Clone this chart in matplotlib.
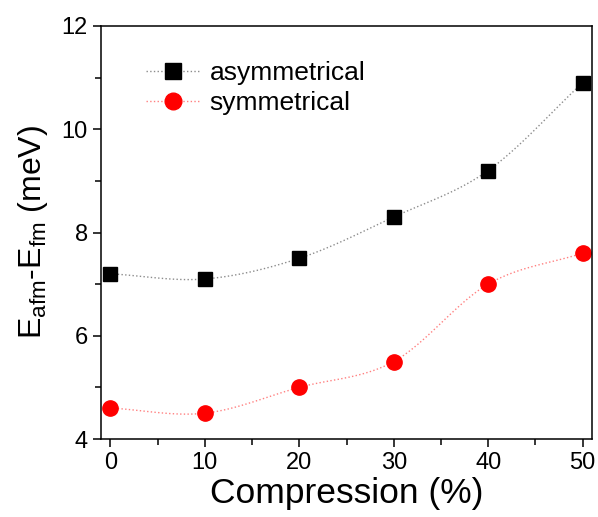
import numpy as np
import matplotlib as mpl
mpl.use("Agg")
import matplotlib.pyplot as plt
from matplotlib.ticker import MultipleLocator

mpl.rcParams.update({
	"font.family": ["Liberation Sans", "DejaVu Sans"],
	"mathtext.fontset": "custom",
	"mathtext.rm": "Liberation Sans",
	"mathtext.it": "Liberation Sans",
	"axes.linewidth": 1.1,
})

compression = [0, 10, 20, 30, 40, 50]
asym = [7.2, 7.1, 7.5, 8.3, 9.2, 10.9]
sym = [4.6, 4.5, 5.0, 5.5, 7.0, 7.6]

def smooth(xs, ys, n=20):
	# Catmull-Rom curve through the points (connecting line only)
	xs = np.asarray(xs, float)
	ys = np.asarray(ys, float)
	px = np.concatenate([[2*xs[0]-xs[1]], xs, [2*xs[-1]-xs[-2]]])
	py = np.concatenate([[2*ys[0]-ys[1]], ys, [2*ys[-1]-ys[-2]]])
	t = np.linspace(0, 1, n)
	ox, oy = [], []
	for i in range(1, len(px)-2):
		for p, o in ((px, ox), (py, oy)):
			p0, p1, p2, p3 = p[i-1], p[i], p[i+1], p[i+2]
			o.extend(0.5*((2*p1) + (-p0+p2)*t + (2*p0-5*p1+4*p2-p3)*t**2 + (-p0+3*p1-3*p2+p3)*t**3))
	return np.array(ox), np.array(oy)

fig = plt.figure(figsize=(5.98, 5.17), dpi=100)
ax = fig.add_axes([101/598, 1-439/517, (592-101)/598, (439-26)/517])

for ys, col, lcol, mk, ms, lab in [
	(asym, "k", "0.55", "s", 10, "asymmetrical"),
	(sym, "r", "#ff8080", "o", 11, "symmetrical"),
]:
	sx, sy = smooth(compression, ys)
	ax.plot(sx, sy, color=lcol, linestyle=":", linewidth=1.0)
	ax.plot(compression, ys, color=col, linestyle="None", marker=mk, markersize=ms)
	ax.plot([], [], color=lcol, linestyle=":", linewidth=1.0, marker=mk,
		markerfacecolor=col, markeredgecolor=col, markersize=ms+1, label=lab)

ax.set_xlim(-1, 51)
ax.set_ylim(4, 12)
ax.xaxis.set_major_locator(MultipleLocator(10))
ax.xaxis.set_minor_locator(MultipleLocator(5))
ax.yaxis.set_major_locator(MultipleLocator(2))
ax.yaxis.set_minor_locator(MultipleLocator(1))
ax.tick_params(which="both", direction="out", top=False, right=False, labelsize=17, width=1.1)
ax.tick_params(which="major", length=6)
ax.tick_params(which="minor", length=4)

ax.set_xlabel("Compression (%)", fontsize=25.5, labelpad=2)
ax.set_ylabel(r"E$_{\mathrm{afm}}$-E$_{\mathrm{fm}}$ (meV)", fontsize=23, labelpad=8)

ax.legend(loc="upper left", bbox_to_anchor=(0.044, 0.973), frameon=False, fontsize=19,
	handlelength=2.0, handletextpad=0.4, labelspacing=0.25)

fig.savefig("out.png", dpi=100)
